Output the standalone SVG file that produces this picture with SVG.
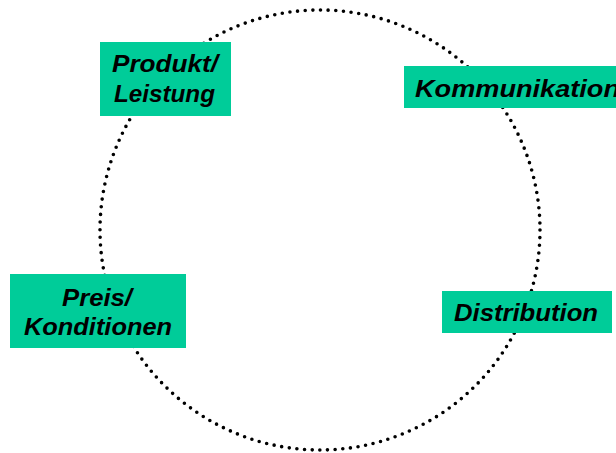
<svg xmlns="http://www.w3.org/2000/svg" width="616" height="453" viewBox="0 0 616 453">
  <style>
    .ring { fill: none; stroke: #000; stroke-width: 3.6; stroke-linecap: round; stroke-dasharray: 0 7.68; }
    .box { fill: #00CC99; stroke: none; }
    .lbl { font-family: "Liberation Sans", Arial, sans-serif; font-size: 23px; font-weight: bold; font-style: italic; fill: #000; }
  </style>
  <rect width="616" height="453" fill="#fff"/>
  <g id="connectors">
    <circle class="ring" cx="320" cy="230" r="220"/>
  </g>
  <g id="produkt">
    <rect class="box" x="100" y="42" width="131" height="74"/>
    <text class="lbl" x="112" y="72" textLength="106" lengthAdjust="spacingAndGlyphs">Produkt/</text>
    <text class="lbl" x="114" y="102" textLength="101" lengthAdjust="spacingAndGlyphs">Leistung</text>
  </g>
  <g id="kommunikation">
    <rect class="box" x="404" y="66" width="212" height="42"/>
    <text class="lbl" x="415" y="97" textLength="205" lengthAdjust="spacingAndGlyphs">Kommunikation</text>
  </g>
  <g id="preis">
    <rect class="box" x="10" y="274" width="176" height="74"/>
    <text class="lbl" x="62" y="306" textLength="70" lengthAdjust="spacingAndGlyphs">Preis/</text>
    <text class="lbl" x="24" y="335" textLength="148" lengthAdjust="spacingAndGlyphs">Konditionen</text>
  </g>
  <g id="distribution">
    <rect class="box" x="442" y="291" width="170" height="42"/>
    <text class="lbl" x="454" y="321" textLength="144" lengthAdjust="spacingAndGlyphs">Distribution</text>
  </g>
</svg>
